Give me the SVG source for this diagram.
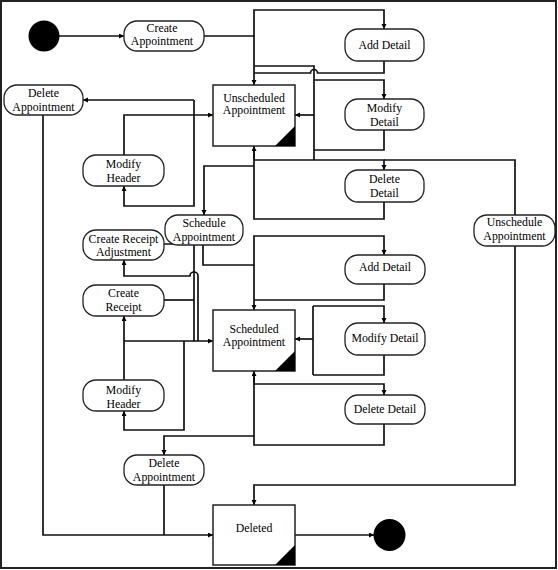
<svg xmlns="http://www.w3.org/2000/svg" width="558" height="570" viewBox="0 0 558 570">
<style>
.frame{fill:#fff;stroke:#222;stroke-width:2}
.act{fill:#fff;stroke:#222;stroke-width:1.3}
.st{fill:#fff;stroke:#222;stroke-width:1.5}
.corner{fill:#000;stroke:none}
.dot{fill:#000;stroke:none}
.c{fill:none;stroke:#111;stroke-width:1.7}
.a{marker-end:url(#arr)}
text{font-family:"Liberation Serif","Times New Roman",serif;font-size:11.8px;fill:#000;text-anchor:middle}
</style>
<defs>
<marker id="arr" markerUnits="userSpaceOnUse" markerWidth="6" markerHeight="6" refX="5" refY="2.5" orient="auto">
<path d="M0,0 L5,2.5 L0,5 z" fill="#000"/>
</marker>
</defs>
<rect class="frame" x="1" y="1" width="555" height="567"/>
<g id="connectors">
<path class="c a" d="M59,36 H124"/>
<path class="c a" d="M204,36 H254 V85"/>
<path class="c a" d="M254,36 V10 H384 V29"/>
<path class="c" d="M384,61 V73 H317.5 A3.5,3.5 0 0 0 310.5,73 H254"/>
<path class="c" d="M254,66 H314 V160"/>
<path class="c a" d="M314,80 H384 V99"/>
<path class="c" d="M384,130 V150 H314"/>
<path class="c a" d="M314,115 H295"/>
<path class="c a" d="M254,146 V160 H384 V170"/>
<path class="c" d="M384,160 H515 V215"/>
<path class="c a" d="M384,202 V219 H254 V146"/>
<path class="c a" d="M254,166 H204 V215"/>
<path class="c a" d="M124,155 V115 H213"/>
<path class="c a" d="M194,100 H83"/>
<path class="c a" d="M194,100 V206 H124 V186"/>
<path class="c a" d="M43,115 V535 H213"/>
<path class="c a" d="M515,246 V485 H254 V505"/>
<path class="c a" d="M295,535 H374"/>
<path class="c a" d="M203,245 V265 H254 V310"/>
<path class="c a" d="M254,265 V236 H384 V255"/>
<path class="c" d="M384,284 V300 H254"/>
<path class="c a" d="M313,339 H295"/>
<path class="c" d="M313,306 V375"/>
<path class="c a" d="M313,306 H384 V323"/>
<path class="c" d="M384,355 V375 H313"/>
<path class="c a" d="M254,371 V384 H384 V395"/>
<path class="c a" d="M384,424 V445 H254 V371"/>
<path class="c a" d="M254,436 H164 V455"/>
<path class="c" d="M164,485 V535"/>
<path class="c a" d="M164,244 H194 V341 H213"/>
<path class="c" d="M164,300 H194"/>
<path class="c" d="M124,380 V341 H194"/>
<path class="c a" d="M124,341 V316"/>
<path class="c a" d="M184,341 V430 H124 V411"/>
<path class="c a" d="M198,341 V276 A4,4 0 0 0 190,276 H124 V260"/>
</g>
<g id="initial"><circle class="dot" cx="44" cy="36" r="15.5"/></g>
<g id="final"><circle class="dot" cx="389.5" cy="535" r="16"/></g>
<g id="create_appointment"><rect class="act" x="124" y="21" width="80" height="30" rx="13"/><text x="162" y="31.5">Create</text><text x="162" y="45">Appointment</text></g>
<g id="add_detail_1"><rect class="act" x="345" y="29" width="79" height="32" rx="13"/><text x="384.5" y="48.5">Add Detail</text></g>
<g id="modify_detail_1"><rect class="act" x="345" y="99" width="79" height="31" rx="13"/><text x="384.5" y="112">Modify</text><text x="384.5" y="126">Detail</text></g>
<g id="delete_detail_1"><rect class="act" x="345" y="170" width="79" height="32" rx="13"/><text x="384.5" y="183">Delete</text><text x="384.5" y="196.5">Detail</text></g>
<g id="delete_appointment_1"><rect class="act" x="4" y="85" width="79" height="30" rx="13"/><text x="43.5" y="97">Delete</text><text x="43.5" y="111">Appointment</text></g>
<g id="modify_header_1"><rect class="act" x="83" y="155" width="81" height="31" rx="13"/><text x="123.5" y="167.5">Modify</text><text x="123.5" y="182">Header</text></g>
<g id="unscheduled_appointment"><rect class="st" x="213" y="85" width="82" height="61"/><polygon class="corner" points="275,146 295,126 295,146"/><text x="254" y="101.5">Unscheduled</text><text x="254" y="114">Appointment</text></g>
<g id="schedule_appointment"><rect class="act" x="165" y="215" width="78" height="30" rx="13"/><text x="204" y="227">Schedule</text><text x="204" y="240.5">Appointment</text></g>
<g id="unschedule_appointment"><rect class="act" x="474" y="215" width="81" height="31" rx="13"/><text x="514.5" y="226">Unschedule</text><text x="514.5" y="240">Appointment</text></g>
<g id="create_receipt_adjustment"><rect class="act" x="83" y="230" width="81" height="30" rx="13"/><text x="123.5" y="242.5">Create Receipt</text><text x="123.5" y="256">Adjustment</text></g>
<g id="create_receipt"><rect class="act" x="83" y="285" width="81" height="31" rx="13"/><text x="123.5" y="296.5">Create</text><text x="123.5" y="310.5">Receipt</text></g>
<g id="add_detail_2"><rect class="act" x="345" y="255" width="80" height="29" rx="13"/><text x="385" y="271">Add Detail</text></g>
<g id="scheduled_appointment"><rect class="st" x="213" y="310" width="82" height="61"/><polygon class="corner" points="275,371 295,351 295,371"/><text x="254" y="333">Scheduled</text><text x="254" y="345.5">Appointment</text></g>
<g id="modify_detail_2"><rect class="act" x="345" y="323" width="80" height="32" rx="13"/><text x="385" y="342">Modify Detail</text></g>
<g id="modify_header_2"><rect class="act" x="83" y="380" width="81" height="31" rx="13"/><text x="123.5" y="393.5">Modify</text><text x="123.5" y="408">Header</text></g>
<g id="delete_detail_2"><rect class="act" x="345" y="395" width="80" height="29" rx="13"/><text x="385" y="413">Delete Detail</text></g>
<g id="delete_appointment_2"><rect class="act" x="124" y="455" width="80" height="30" rx="13"/><text x="164" y="467">Delete</text><text x="164" y="481">Appointment</text></g>
<g id="deleted"><rect class="st" x="213" y="505" width="82" height="60"/><polygon class="corner" points="275,565 295,545 295,565"/><text x="254" y="532">Deleted</text></g>
</svg>
